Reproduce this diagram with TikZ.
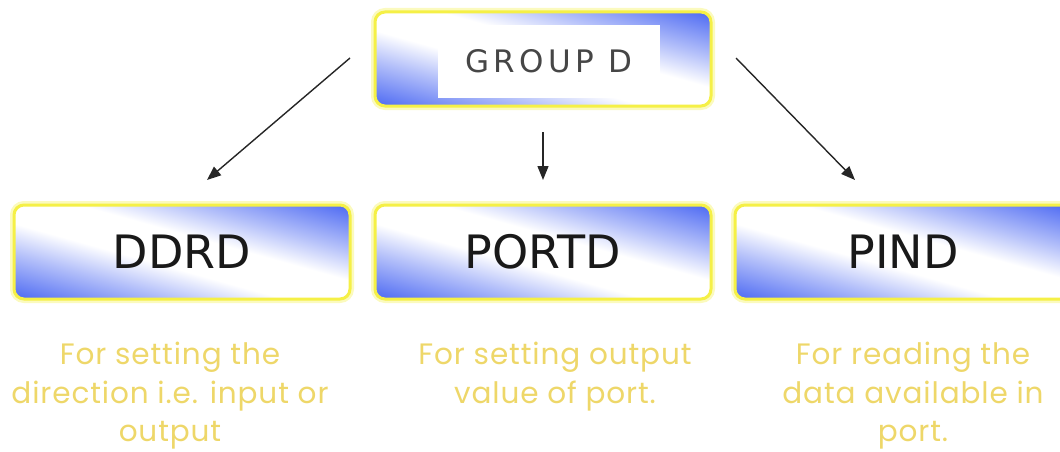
\documentclass[tikz,border=0pt]{standalone}
\usepackage{fontspec}
\usetikzlibrary{arrows.meta}
\setmainfont{DejaVu Sans}
\newfontfamily\descfont[LetterSpace=3]{Poppins}
\newfontfamily\grpfont[LetterSpace=14]{DejaVu Sans}
\definecolor{bblue}{RGB}{68,98,242}
\definecolor{byellow}{RGB}{245,240,70}
\definecolor{dyellow}{RGB}{238,215,105}
\definecolor{grptext}{RGB}{70,70,70}
\pgfdeclareverticalshading{boxsh}{100bp}{color(0bp)=(bblue); color(18bp)=(bblue); color(34bp)=(bblue!40); color(44bp)=(white); color(56bp)=(white); color(66bp)=(bblue!40); color(82bp)=(bblue); color(100bp)=(bblue)}
\tikzset{
  regbox/.style={rounded corners=10pt, minimum width=336pt, minimum height=94pt,
    shading=boxsh, shading angle=-15.6, draw=byellow, line width=3pt,
    preaction={draw=byellow!35, line width=8pt}, inner sep=0pt},
  reglabel/.style={font=\fontsize{46}{50}\selectfont, text=black!90},
  desc/.style={font=\descfont\fontsize{29.5}{38.5}\selectfont, text=dyellow, align=center, anchor=north, inner sep=0pt},
  arr/.style={-{Triangle[length=14pt,width=11pt]}, line width=1.4pt, black!85}
}
\begin{document}
\begin{tikzpicture}[x=1pt,y=-1pt]
\clip (0,0) rectangle (1060,452);
\useasboundingbox (0,0) rectangle (1060,452);
% boxes
\node[regbox] (grp) at (543,59) {};
\node[fill=white, minimum width=222pt, minimum height=73pt, inner sep=0pt, font=\grpfont\fontsize{31}{33}\selectfont, text=grptext] (grplabel) at (549,61.5) {GROUP D};
\node[regbox] (ddrd) at (182,252) {};
\node[reglabel] at (ddrd) {DDRD};
\node[regbox] (portd) at (543,252) {};
\node[reglabel] at (portd) {PORTD};
\node[regbox] (pind) at (903,252) {};
\node[reglabel] at (pind) {PIND};
% arrow end coordinates
\coordinate (a1s) at (350,58);
\coordinate (a1e) at (207,180);
\coordinate (a2s) at (543,132);
\coordinate (a2e) at (543,180);
\coordinate (a3s) at (736,58);
\coordinate (a3e) at (855,180);
\draw[arr] (a1s) -- (a1e);
\draw[arr] (a2s) -- (a2e);
\draw[arr] (a3s) -- (a3e);
% descriptions
\node[desc] (d1) at (170,342) {For setting the\\direction i.e. input or\\output};
\node[desc] (d2) at (555,342) {For setting output\\value of port.};
\node[desc] (d3) at (913,342) {For reading the\\data available in\\port.};
\end{tikzpicture}
\end{document}
